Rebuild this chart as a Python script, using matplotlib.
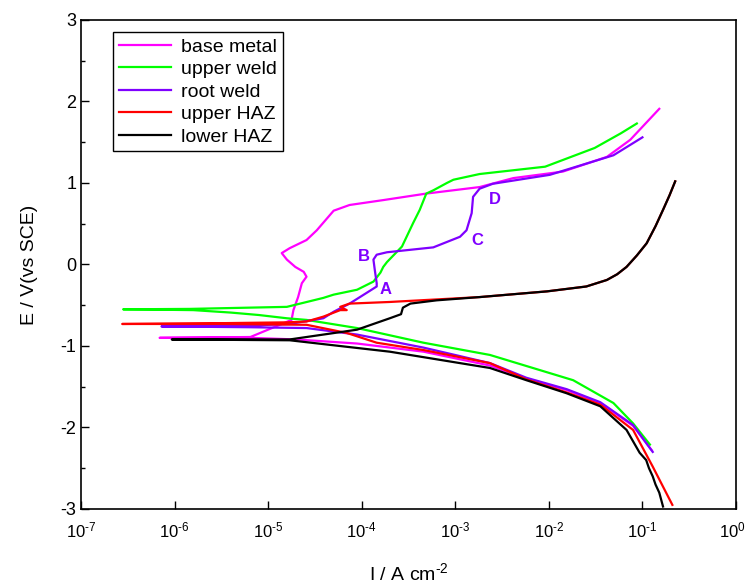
import numpy as np
import matplotlib
matplotlib.use("Agg")
import matplotlib.pyplot as plt
import matplotlib.transforms as mtransforms

plt.rcParams['font.family'] = ['Liberation Sans', 'DejaVu Sans']
plt.rcParams['mathtext.fontset'] = 'custom'
plt.rcParams['mathtext.rm'] = 'Liberation Sans'
plt.rcParams['mathtext.it'] = 'Liberation Sans'
plt.rcParams['axes.unicode_minus'] = False

# log10(I / A cm-2) and E (V vs SCE), cathodic end -> Ecorr -> anodic end
base_logi = [-0.90, -1.10, -1.45, -1.81, -2.24, -2.63, -3.34, -4.05, -4.70, -5.19, -6.16,
             -5.19, -4.75, -4.73, -4.68, -4.64, -4.59, -4.62, -4.71, -4.80, -4.855, -4.77,
             -4.59, -4.48, -4.30, -4.13, -3.77, -3.31, -2.74, -2.38, -1.85, -1.38, -1.13, -0.82]
base_e = [-2.28, -1.98, -1.70, -1.54, -1.40, -1.24, -1.07, -0.97, -0.92, -0.90, -0.90,
          -0.89, -0.68, -0.56, -0.40, -0.23, -0.15, -0.09, -0.03, 0.06, 0.14, 0.20,
          0.30, 0.42, 0.66, 0.73, 0.79, 0.87, 0.95, 1.06, 1.14, 1.32, 1.53, 1.91]

upper_weld_logi = [-0.92, -1.10, -1.31, -1.74, -2.63, -3.34, -4.05, -4.59, -4.80, -5.10, -5.40,
                   -5.80, -6.55, -5.84, -4.80, -4.41, -4.30, -4.05, -3.875, -3.80, -3.77, -3.73,
                   -3.57, -3.45, -3.38, -3.31, -3.235, -3.09, -3.02, -2.74, -2.04, -1.51, -1.23, -1.06]
upper_weld_e = [-2.21, -1.95, -1.70, -1.42, -1.11, -0.96, -0.78, -0.68, -0.66, -0.62, -0.59,
                -0.56, -0.55, -0.545, -0.52, -0.41, -0.37, -0.31, -0.21, -0.10, -0.03, 0.03,
                0.22, 0.51, 0.67, 0.87, 0.91, 1.00, 1.04, 1.11, 1.20, 1.43, 1.61, 1.73]

root_weld_logi = [-0.89, -1.10, -1.45, -1.81, -2.24, -2.63, -3.34, -4.05, -4.59, -5.20, -6.14,
                  -5.20, -4.77, -4.41, -4.30, -4.13, -3.95, -3.84, -3.84, -3.86, -3.875, -3.84,
                  -3.73, -3.235, -2.95, -2.88, -2.825, -2.81, -2.74, -2.60, -1.99, -1.31, -1.00]
root_weld_e = [-2.30, -1.97, -1.69, -1.53, -1.39, -1.21, -1.02, -0.86, -0.78, -0.77, -0.76,
               -0.75, -0.73, -0.66, -0.58, -0.48, -0.35, -0.27, -0.23, -0.07, 0.06, 0.12,
               0.15, 0.21, 0.34, 0.42, 0.63, 0.83, 0.93, 0.99, 1.10, 1.34, 1.56]

upper_haz_logi = [-0.68, -0.89, -1.10, -1.45, -1.81, -2.24, -2.63, -3.34, -3.84, -4.16, -4.59,
                  -5.50, -6.56, -5.50, -4.80, -4.59, -4.41, -4.23, -4.16, -4.23, -4.13, -3.70,
                  -2.74, -2.02, -1.60, -1.38, -1.27, -1.17, -1.06, -0.955, -0.86, -0.78, -0.71, -0.65]
upper_haz_e = [-2.95, -2.48, -2.03, -1.72, -1.57, -1.41, -1.21, -1.05, -0.96, -0.84, -0.74,
               -0.73, -0.73, -0.72, -0.71, -0.70, -0.64, -0.56, -0.56, -0.52, -0.48, -0.46,
               -0.40, -0.33, -0.27, -0.19, -0.12, -0.03, 0.11, 0.26, 0.47, 0.67, 0.85, 1.02]

lower_haz_logi = [-0.78, -0.82, -0.86, -0.89, -0.93, -0.96, -1.03, -1.17, -1.45, -1.81, -2.24,
                  -2.63, -3.70, -4.77, -6.03, -4.77, -4.41, -4.05, -3.70, -3.58, -3.56, -3.48,
                  -3.20, -2.74, -2.02, -1.60, -1.38, -1.27, -1.17, -1.06, -0.955, -0.86, -0.78,
                  -0.71, -0.65]
lower_haz_e = [-2.97, -2.80, -2.70, -2.60, -2.50, -2.40, -2.31, -2.03, -1.74, -1.58, -1.42,
               -1.27, -1.07, -0.93, -0.92, -0.92, -0.86, -0.80, -0.66, -0.61, -0.53, -0.48,
               -0.44, -0.40, -0.33, -0.27, -0.19, -0.12, -0.03, 0.11, 0.26, 0.47, 0.67,
               0.85, 1.02]

series = [
    ("base metal", base_logi, base_e, "#ff00ff"),
    ("upper weld", upper_weld_logi, upper_weld_e, "#00ff00"),
    ("root weld", root_weld_logi, root_weld_e, "#7f00ff"),
    ("upper HAZ", upper_haz_logi, upper_haz_e, "#ff0000"),
    ("lower HAZ", lower_haz_logi, lower_haz_e, "#000000"),
]

# labels on root weld curve
point_labels = ["A", "B", "C", "D"]
point_logi = [-3.75, -3.98, -2.76, -2.58]
point_e = [-0.31, 0.10, 0.30, 0.80]

fig = plt.figure(figsize=(7.46, 5.88), dpi=100)
ax = fig.add_axes([0.1086, 0.1344, 0.878, 0.8316])

for name, li, e, c in series:
    ax.plot(10 ** np.array(li), e, color=c, lw=1.6, label=name)

for lab, li, e in zip(point_labels, point_logi, point_e):
    ax.text(10 ** li, e, lab, color="#7f00ff", fontsize=12, fontweight="bold",
            ha="center", va="center")

ax.set_xscale("log")
ax.set_xlim(1e-7, 1)
ax.set_ylim(-3, 3)
ax.set_xticks([10.0 ** k for k in range(-7, 1)])
# hyphen (U+2010) in the exponents, like the original figure
ax.set_xticklabels(["$10^{%s}$" % str(k).replace("-", "\u2010") for k in range(-7, 1)])
ax.xaxis.set_minor_locator(matplotlib.ticker.NullLocator())
ax.set_yticks([-3, -2, -1, 0, 1, 2, 3])
ax.set_yticks(np.arange(-2.5, 3, 1.0), minor=True)
ax.tick_params(which="both", direction="in", top=False, right=False, labelsize=12, width=1)
ax.tick_params(which="major", length=6)
ax.tick_params(which="minor", length=3)
ax.tick_params(axis="x", pad=8)
ax.tick_params(axis="y", labelsize=13)
for s in ax.spines.values():
    s.set_linewidth(1.2)

# nudge the last x label so it stays inside the figure
last = ax.get_xticklabels()[-1]
last.set_transform(last.get_transform() + mtransforms.ScaledTranslation(-4 / 100, 0, fig.dpi_scale_trans))

ax.set_xlabel("I / A cm$^{\u20102}$", fontsize=14, labelpad=16)
ax.set_ylabel("E / V(vs SCE)", fontsize=14, labelpad=16)

leg = ax.legend(loc="upper left", bbox_to_anchor=(0.049, 0.975), borderaxespad=0,
                fontsize=14, fancybox=False, edgecolor="black", framealpha=1,
                handlelength=2.7, handletextpad=0.5, labelspacing=0.25, borderpad=0.3)
leg.get_frame().set_linewidth(1)

fig.savefig("out.png", dpi=100)
